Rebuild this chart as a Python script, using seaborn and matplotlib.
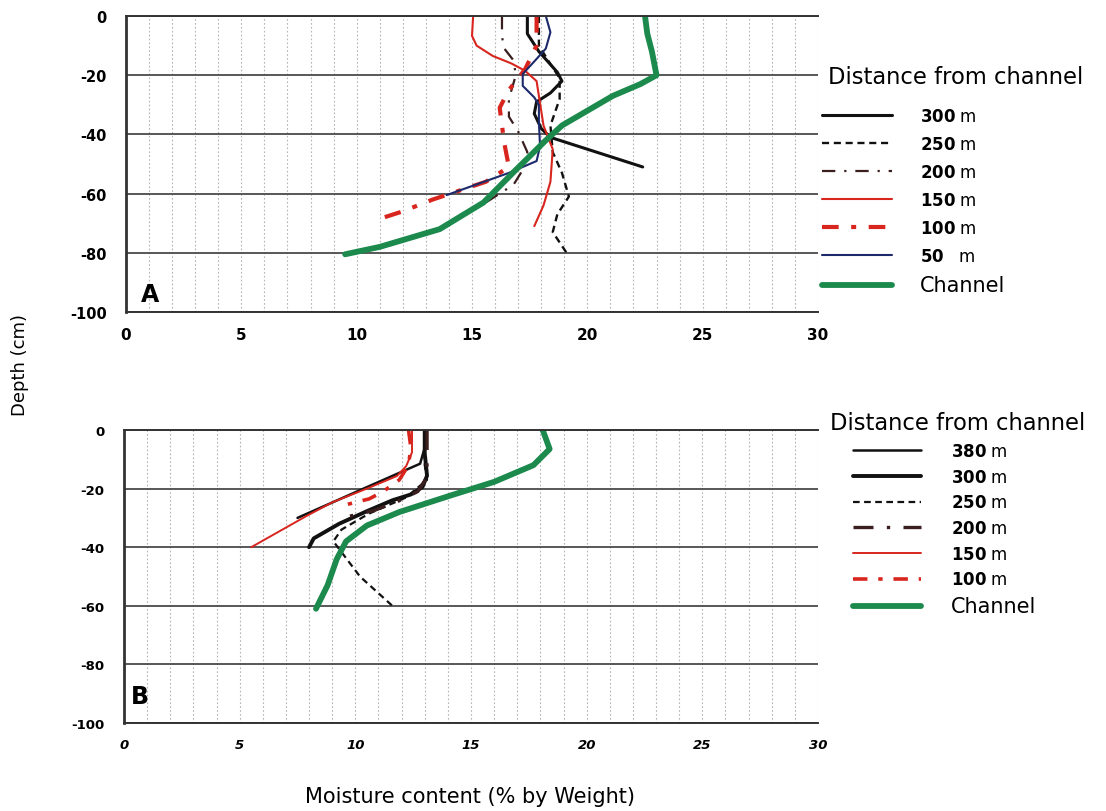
import matplotlib
matplotlib.use("Agg")
import matplotlib.pyplot as plt
from matplotlib.ticker import MultipleLocator
import seaborn as sns

sns.set_style("white")
plt.rcParams['font.family'] = ['DejaVu Sans']
plt.rcParams['axes.unicode_minus'] = False
plt.rcParams['text.color'] = 'black'
plt.rcParams['xtick.color'] = 'black'
plt.rcParams['ytick.color'] = 'black'

# ---- panel A: moisture (% by weight) vs depth (cm) ----
a_300_x = [17.4, 17.4, 17.9, 18.7, 18.9, 18.4, 17.8, 17.7, 18.0, 18.4, 22.4]
a_300_y = [0, -6, -12, -19, -22, -26, -29, -33, -38, -41, -51]
a_250_x = [17.9, 17.9, 18.3, 18.8, 18.8, 18.4, 18.5, 18.9, 19.2, 18.7, 18.5, 19.1]
a_250_y = [0, -10, -15, -21, -28, -37, -46, -53, -61, -67, -73, -80]
a_200_x = [16.3, 16.3, 16.4, 16.8, 16.9, 16.6, 16.6, 17.0, 17.4, 17.2, 16.8, 15.6]
a_200_y = [0, -7, -11, -15, -20, -28, -34, -39, -46, -52, -57, -63]
a_150_x = [15.05, 15.0, 15.2, 15.9, 16.7, 17.3, 17.8, 17.9, 18.1, 18.5, 18.4, 18.1, 17.7]
a_150_y = [0, -6.7, -10, -13.5, -16, -18.5, -22, -27, -37, -45, -56, -64, -71]
a_100_x = [17.8, 17.8, 17.3, 16.6, 16.2, 16.3, 16.4, 16.6, 15.6, 13.3, 12.0, 10.8]
a_100_y = [0, -10, -18, -25, -31, -37, -43, -51, -56, -62, -66, -69]
a_50_x = [18.2, 18.4, 18.2, 17.8, 17.2, 17.2, 17.7, 17.9, 17.9, 17.95, 17.8, 16.6, 13.9]
a_50_y = [0, -5.5, -11, -14.5, -19.6, -23.6, -27.5, -30, -36, -44, -49, -53, -60.5]
a_ch_x = [22.5, 22.6, 22.8, 23.0, 22.3, 21.1, 18.9, 18.2, 16.9, 15.5, 13.6, 11.0, 9.5]
a_ch_y = [0, -6, -12, -20, -23, -27, -37, -42, -52, -63, -72, -78, -80.5]

# ---- panel B ----
b_380_x = [13.0, 13.0, 12.8, 10.5, 7.5]
b_380_y = [0, -6, -11.5, -19.5, -30]
b_300_x = [13.0, 13.0, 13.1, 12.9, 12.4, 11.6, 10.5, 9.3, 8.2, 8.0]
b_300_y = [0, -8, -15.6, -19.5, -22, -24, -27.7, -32, -37, -40]
b_250_x = [13.0, 13.0, 13.1, 12.2, 10.6, 9.4, 9.05, 10.2, 11.6]
b_250_y = [0, -12, -17, -23, -28.5, -34, -38, -50, -60]
b_200_x = [13.1, 13.1, 13.1, 12.7, 11.8, 10.8, 9.7]
b_200_y = [0, -8, -16, -21, -24.5, -27.5, -29.5]
b_150_x = [12.45, 12.45, 12.2, 11.8, 10.5, 9.0, 7.9, 5.5]
b_150_y = [0, -7.6, -12.3, -15.7, -20, -24.7, -29.3, -40]
b_100_x = [12.3, 12.4, 12.3, 11.9, 11.2, 10.6, 9.6]
b_100_y = [0, -6, -12, -17, -21, -23.5, -25.5]
b_ch_x = [18.1, 18.4, 17.7, 16.0, 14.1, 11.9, 10.5, 9.6, 9.2, 8.8, 8.3]
b_ch_y = [0, -6.5, -12, -17.7, -22.4, -28, -32.6, -38, -44, -53, -61]

BLACK = '#111111'
BROWN = '#3b1f1f'
RED = '#d8261f'
NAVY = '#1c2a6b'
GREEN = '#1b8a4c'

series_a = [
    ("300", a_300_x, a_300_y, BLACK, 2.2, '-'),
    ("250", a_250_x, a_250_y, BLACK, 1.7, (0, (3, 2))),
    ("200", a_200_x, a_200_y, BROWN, 1.6, (0, (6, 4, 1, 4))),
    ("150", a_150_x, a_150_y, RED, 1.5, '-'),
    ("100", a_100_x, a_100_y, RED, 3.0, (0, (4, 3, 1.2, 3))),
    ("50 ", a_50_x, a_50_y, NAVY, 1.5, '-'),
    ("Channel", a_ch_x, a_ch_y, GREEN, 4.2, '-'),
]
series_b = [
    ("380", b_380_x, b_380_y, BLACK, 1.8, '-'),
    ("300", b_300_x, b_300_y, BLACK, 2.8, '-'),
    ("250", b_250_x, b_250_y, BLACK, 1.6, (0, (3, 2))),
    ("200", b_200_x, b_200_y, BROWN, 2.4, (0, (6, 4, 1, 4))),
    ("150", b_150_x, b_150_y, RED, 1.4, '-'),
    ("100", b_100_x, b_100_y, RED, 2.6, (0, (4, 3, 1.2, 3))),
    ("Channel", b_ch_x, b_ch_y, GREEN, 4.2, '-'),
]

fig = plt.figure(figsize=(11.06, 8.12), dpi=100)
ax_a = fig.add_axes([126 / 1106, 1 - 313 / 812, (818 - 126) / 1106, (313 - 17) / 812])
ax_b = fig.add_axes([124 / 1106, 1 - 724 / 812, (818 - 124) / 1106, (724 - 431) / 812])


def draw_panel(ax, series, letter, letter_xy, italic_x):
    for name, xs, ys, col, lw, ls in series:
        lab = name if name == "Channel" else r"$\mathbf{%s}$ m" % name.strip()
        if name == "50 ":
            lab = r"$\mathbf{50}$   m"
        sns.lineplot(x=xs, y=ys, sort=False, estimator=None, ax=ax, color=col,
                     lw=lw, linestyle=ls, label=lab)
    ax.set_xlim(0, 30)
    ax.set_ylim(-100, 0)
    ax.set_xticks(range(0, 31, 5))
    ax.set_yticks(range(-100, 1, 20))
    ax.xaxis.set_minor_locator(MultipleLocator(1))
    ax.yaxis.set_minor_locator(MultipleLocator(2))
    ax.grid(axis='x', which='both', color='#b4b4b4', lw=0.8, linestyle=(0, (1.5, 2)))
    ax.grid(axis='y', which='major', color='#4a4a4a', lw=1.3, linestyle='-')
    ax.set_axisbelow(True)
    for s in ['top', 'bottom', 'left']:
        ax.spines[s].set_color('#333333')
        ax.spines[s].set_linewidth(1.4)
    ax.spines['left'].set_linewidth(2.0)
    ax.spines['right'].set_visible(False)
    ax.tick_params(axis='x', which='both', length=0, pad=11,
                   labelsize=9.5 if italic_x else 11)
    ax.tick_params(axis='y', which='major', length=6, width=1.2, color='#333333',
                   direction='out', pad=8, labelsize=9.5 if italic_x else 10.5)
    ax.tick_params(axis='y', which='minor', length=2.5, width=0.8, direction='in',
                   color='#333333')
    for t in ax.get_xticklabels() + ax.get_yticklabels():
        t.set_fontweight('bold')
    if italic_x:
        for t in ax.get_xticklabels():
            t.set_fontstyle('italic')
    ax.set_xlabel('')
    ax.set_ylabel('')
    ax.text(letter_xy[0], letter_xy[1], letter, fontsize=17, fontweight='bold',
            ha='center', va='center')


draw_panel(ax_a, series_a, 'A', (1.04, -93.9), False)
draw_panel(ax_b, series_b, 'B', (0.7, -90.9), True)

# legends (titles placed separately, as in the original layout)
leg_a = ax_a.legend(loc='upper left', bbox_to_anchor=(822 / 1106, 1 - 108 / 812),
                    bbox_transform=fig.transFigure, frameon=False, fontsize=12,
                    borderpad=0, borderaxespad=0, handlelength=4.2, handletextpad=1.7,
                    labelspacing=0.6)
leg_b = ax_b.legend(loc='upper left', bbox_to_anchor=(853 / 1106, 1 - 443 / 812),
                    bbox_transform=fig.transFigure, frameon=False, fontsize=12,
                    borderpad=0, borderaxespad=0, handlelength=4.1, handletextpad=1.8,
                    labelspacing=0.46)
for leg in (leg_a, leg_b):
    leg.get_texts()[-1].set_fontsize(15)

fig.text(828 / 1106, 1 - 77 / 812, 'Distance from channel', fontsize=16.3,
         ha='left', va='center')
fig.text(830 / 1106, 1 - 424 / 812, 'Distance from channel', fontsize=16.3,
         ha='left', va='center')

fig.text(20 / 1106, 1 - 365 / 812, 'Depth (cm)', fontsize=13, rotation=90,
         ha='center', va='center')
fig.text(470 / 1106, 1 - 797 / 812, 'Moisture content (% by Weight)', fontsize=15,
         ha='center', va='center')

fig.savefig('out.png', dpi=100)
